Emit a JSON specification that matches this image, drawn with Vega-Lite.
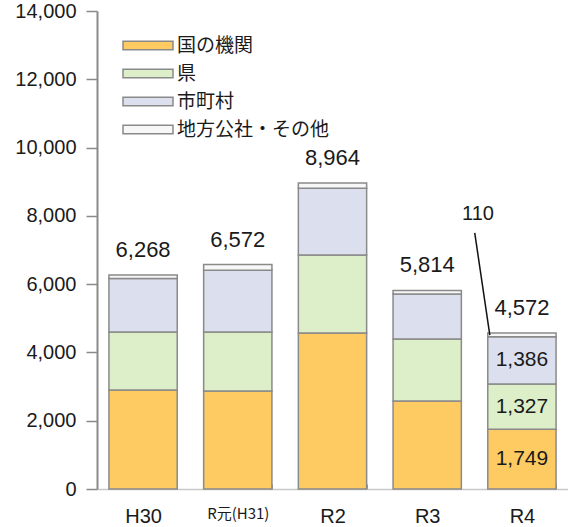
{
  "$schema": "https://vega.github.io/schema/vega-lite/v6.json",
  "width": 471,
  "height": 478,
  "autosize": {"type": "none"},
  "padding": {"left": 97, "top": 11, "right": 0, "bottom": 38},
  "background": "white",
  "config": {
    "view": {"stroke": null},
    "text": {"font": "Liberation Sans", "color": "#1a1a1a"},
    "axisY": {
      "grid": false,
      "domainColor": "#8a8a8a", "domainWidth": 2,
      "tickColor": "#8a8a8a", "tickSize": 11, "tickWidth": 1.5,
      "labelPadding": 10, "labelFont": "Liberation Sans", "labelFontSize": 20,
      "labelColor": "#1a1a1a"
    }
  },
  "datasets": {
    "main": [
      {"year": "H30", "cat": "国の機関", "ord": 1, "v": 2900},
      {"year": "H30", "cat": "県", "ord": 2, "v": 1700},
      {"year": "H30", "cat": "市町村", "ord": 3, "v": 1568},
      {"year": "H30", "cat": "地方公社・その他", "ord": 4, "v": 100},
      {"year": "R元(H31)", "cat": "国の機関", "ord": 1, "v": 2870},
      {"year": "R元(H31)", "cat": "県", "ord": 2, "v": 1730},
      {"year": "R元(H31)", "cat": "市町村", "ord": 3, "v": 1810},
      {"year": "R元(H31)", "cat": "地方公社・その他", "ord": 4, "v": 162},
      {"year": "R2", "cat": "国の機関", "ord": 1, "v": 4570},
      {"year": "R2", "cat": "県", "ord": 2, "v": 2280},
      {"year": "R2", "cat": "市町村", "ord": 3, "v": 1960},
      {"year": "R2", "cat": "地方公社・その他", "ord": 4, "v": 154},
      {"year": "R3", "cat": "国の機関", "ord": 1, "v": 2580},
      {"year": "R3", "cat": "県", "ord": 2, "v": 1810},
      {"year": "R3", "cat": "市町村", "ord": 3, "v": 1324},
      {"year": "R3", "cat": "地方公社・その他", "ord": 4, "v": 100},
      {"year": "R4", "cat": "国の機関", "ord": 1, "v": 1749},
      {"year": "R4", "cat": "県", "ord": 2, "v": 1327},
      {"year": "R4", "cat": "市町村", "ord": 3, "v": 1386},
      {"year": "R4", "cat": "地方公社・その他", "ord": 4, "v": 110}
    ],
    "leader": [
      {"px": 4.01, "py": 7500, "px2": 4.17, "py2": 4510}
    ],
    "note": [
      {"px": 4.045, "py": 8050, "label": "110"}
    ]
  },
  "layer": [
    {
      "layer": [
        {
          "data": {"name": "main"},
          "mark": {"type": "bar", "stroke": "#8a8a8a", "strokeWidth": 1.5},
          "encoding": {
            "x": {
              "field": "year", "type": "nominal", "sort": null,
              "scale": {"paddingInner": 0.279, "paddingOuter": 0.126},
              "axis": {
                "title": null, "labelAngle": 0,
                "domainColor": "#c8c8c8", "domainWidth": 1.5,
                "tickBand": "extent", "tickSize": -5, "tickColor": "#999999", "tickWidth": 1,
                "labelPadding": 22,
                "labelBaseline": "top",
                "labelColor": "#1a1a1a",
                "labelFont": {"condition": {"test": "datum.value == 'R元(H31)'", "value": "Noto Sans CJK JP"}, "value": "Liberation Sans"},
                "labelFontSize": {"condition": {"test": "datum.value == 'R元(H31)'", "value": 15}, "value": 20}
              }
            },
            "y": {
              "field": "v", "type": "quantitative", "aggregate": "sum", "stack": "zero",
              "scale": {"domain": [0, 14000], "nice": false},
              "axis": {"title": null, "format": ",.0f", "values": [0, 2000, 4000, 6000, 8000, 10000, 12000, 14000]}
            },
            "color": {
              "field": "cat", "type": "nominal",
              "scale": {
                "domain": ["国の機関", "県", "市町村", "地方公社・その他"],
                "range": ["#FDCB62", "#DDEFC9", "#DCE0EE", "#F7F7F7"]
              },
              "legend": {
                "title": null, "orient": "none", "legendX": 25, "legendY": 25,
                "padding": 0,
                "symbolType": "M-1,-0.17H1V0.17H-1Z", "symbolSize": 2500,
                "symbolStrokeColor": "#8a8a8a", "symbolStrokeWidth": 1.5, "symbolOpacity": 1,
                "labelFont": "Noto Sans CJK JP", "labelFontSize": 19, "labelColor": "#1a1a1a",
                "labelOffset": 3, "rowPadding": 8, "clipHeight": 19
              }
            },
            "order": {"field": "ord", "type": "quantitative"}
          }
        },
        {
          "data": {"name": "main"},
          "mark": {"type": "text", "baseline": "alphabetic", "dy": -18, "fontSize": 22},
          "encoding": {
            "x": {"field": "year", "type": "nominal", "sort": null},
            "y": {"field": "v", "type": "quantitative", "aggregate": "sum", "axis": {"title": null, "format": ",.0f", "values": [0, 2000, 4000, 6000, 8000, 10000, 12000, 14000]}},
            "text": {"field": "v", "type": "quantitative", "aggregate": "sum", "format": ",.0f"}
          }
        },
        {
          "data": {"name": "main"},
          "transform": [
            {"stack": "v", "groupby": ["year"], "sort": [{"field": "ord"}], "as": ["v0", "v1"]},
            {"filter": "datum.year == 'R4' && datum.ord < 4"},
            {"calculate": "(datum.v0 + datum.v1) / 2", "as": "mid"}
          ],
          "mark": {"type": "text", "baseline": "middle", "fontSize": 21},
          "encoding": {
            "x": {"field": "year", "type": "nominal", "sort": null},
            "y": {"field": "mid", "type": "quantitative", "axis": {"title": null, "format": ",.0f", "values": [0, 2000, 4000, 6000, 8000, 10000, 12000, 14000]}},
            "text": {"field": "v", "type": "quantitative", "format": ",.0f"}
          }
        }
      ]
    },
    {
      "layer": [
        {
          "data": {"name": "leader"},
          "mark": {"type": "rule", "color": "#111111", "strokeWidth": 1.5},
          "encoding": {
            "x": {"field": "px", "type": "quantitative", "scale": {"domain": [0, 5], "nice": false}, "axis": null},
            "x2": {"field": "px2"},
            "y": {"field": "py", "type": "quantitative", "axis": {"title": null, "format": ",.0f", "values": [0, 2000, 4000, 6000, 8000, 10000, 12000, 14000]}},
            "y2": {"field": "py2"}
          }
        },
        {
          "data": {"name": "note"},
          "mark": {"type": "text", "baseline": "middle", "fontSize": 20},
          "encoding": {
            "x": {"field": "px", "type": "quantitative", "scale": {"domain": [0, 5], "nice": false}, "axis": null},
            "y": {"field": "py", "type": "quantitative", "axis": {"title": null, "format": ",.0f", "values": [0, 2000, 4000, 6000, 8000, 10000, 12000, 14000]}},
            "text": {"field": "label"}
          }
        }
      ]
    }
  ],
  "resolve": {"scale": {"x": "independent"}}
}
